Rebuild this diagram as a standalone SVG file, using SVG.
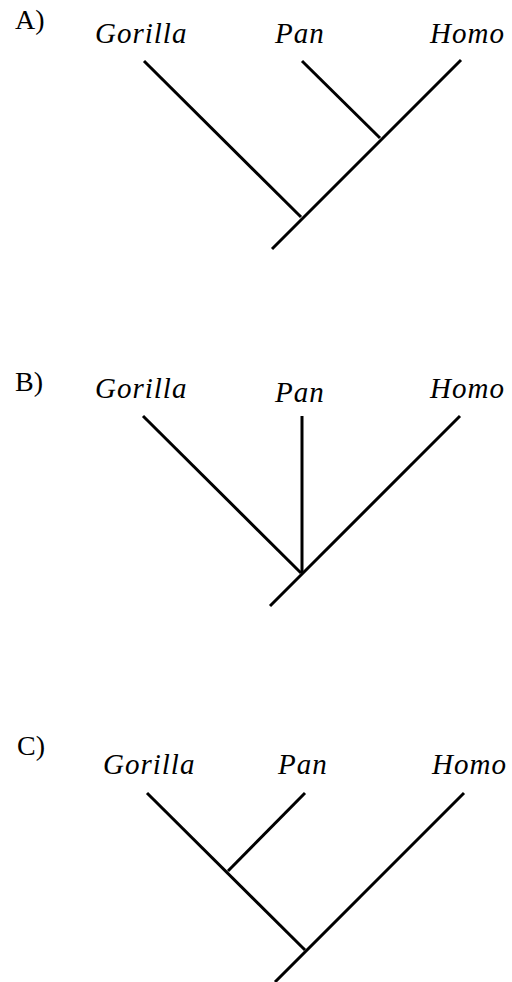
<svg xmlns="http://www.w3.org/2000/svg" width="512" height="982" viewBox="0 0 512 982">
<style>
.lbl{font-family:"Liberation Serif",serif;font-size:28px;fill:#000}
.tx{font-family:"Liberation Serif";font-style:italic;font-size:29px;letter-spacing:1px;fill:#000}
.br{stroke:#000;stroke-width:3;fill:none;stroke-linecap:butt}
</style>
<rect width="512" height="982" fill="#fff"/>
<g id="panelA">
<text class="lbl" x="15" y="29">A)</text>
<g id="A-gorilla"><text class="tx" x="95" y="43">Gorilla</text></g>
<g id="A-pan"><text class="tx" x="275" y="43">Pan</text></g>
<g id="A-homo"><text class="tx" x="430" y="43">Homo</text></g>
<g id="A-connectors">
<line class="br" x1="144" y1="61" x2="301" y2="217"/>
<line class="br" x1="302" y1="61" x2="380" y2="138"/>
<line class="br" x1="461" y1="60" x2="272" y2="249"/>
</g>
</g>
<g id="panelB">
<text class="lbl" x="15" y="391">B)</text>
<g id="B-gorilla"><text class="tx" x="95" y="398">Gorilla</text></g>
<g id="B-pan"><text class="tx" x="275" y="402">Pan</text></g>
<g id="B-homo"><text class="tx" x="430" y="398">Homo</text></g>
<g id="B-connectors">
<line class="br" x1="143" y1="416" x2="301" y2="573"/>
<line class="br" x1="302" y1="416" x2="302" y2="573"/>
<line class="br" x1="460" y1="416" x2="270" y2="606"/>
</g>
</g>
<g id="panelC">
<text class="lbl" x="17" y="755">C)</text>
<g id="C-gorilla"><text class="tx" x="103" y="774">Gorilla</text></g>
<g id="C-pan"><text class="tx" x="278" y="774">Pan</text></g>
<g id="C-homo"><text class="tx" x="432" y="774">Homo</text></g>
<g id="C-connectors">
<line class="br" x1="147" y1="793" x2="305" y2="950"/>
<line class="br" x1="305" y1="793" x2="228" y2="871"/>
<line class="br" x1="464" y1="793" x2="275" y2="982"/>
</g>
</g>
</svg>
